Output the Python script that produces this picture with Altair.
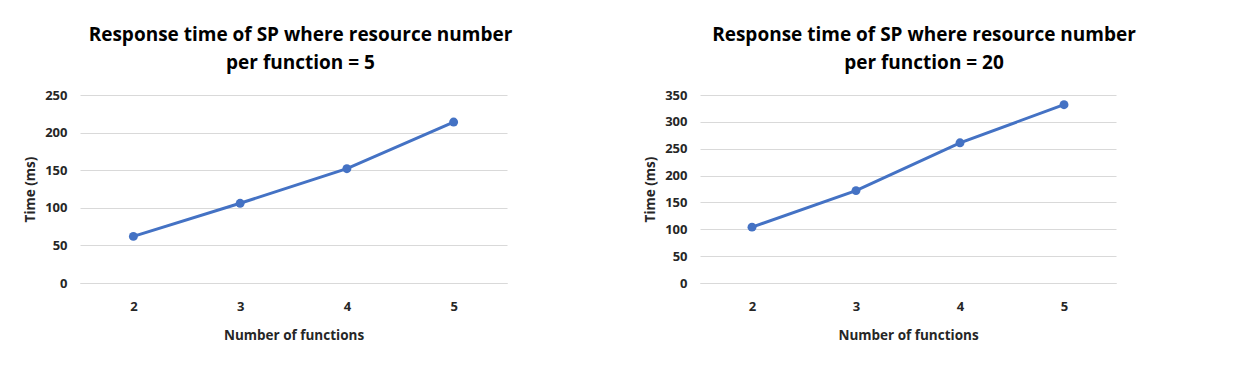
import altair as alt
import pandas as pd

functions = [2, 3, 4, 5]
time_r5 = [62, 106, 152, 214]
time_r20 = [104, 172, 261, 332]

FONT = "Open Sans"
BLUE = "#4472C4"
GRID = "#D9D9D9"


def panel(values, title, ymax, width, dx):
    df = pd.DataFrame({"n": functions, "t": values})
    base = alt.Chart(df).encode(
        x=alt.X(
            "n:O",
            title="Number of functions",
            scale=alt.Scale(type="point", padding=0.5),
            axis=alt.Axis(
                labelAngle=0,
                ticks=False,
                domain=True,
                domainColor=GRID,
                grid=False,
                labelPadding=17,
                titlePadding=15,
            ),
        ),
        y=alt.Y(
            "t:Q",
            title="Time (ms)",
            scale=alt.Scale(domain=[0, ymax], nice=False),
            axis=alt.Axis(
                values=list(range(0, ymax + 1, 50)),
                ticks=False,
                domain=False,
                grid=True,
                gridColor=GRID,
                labelPadding=13,
                titlePadding=7,
            ),
        ),
    )
    line = base.mark_line(color=BLUE, strokeWidth=3)
    pts = base.mark_circle(color=BLUE, size=80, opacity=1)
    return (line + pts).properties(
        width=width,
        height=188,
        title=alt.TitleParams(
            text=title,
            fontSize=19,
            font=FONT,
            fontWeight="bold",
            color="#000000",
            lineHeight=28,
            offset=16,
            dx=dx,
        ),
    )


left = panel(time_r5, ["Response time of SP where resource number", "per function = 5"], 250, 427, 7)
right = panel(time_r20, ["Response time of SP where resource number", "per function = 20"], 350, 416, 16)

chart = (
    alt.hconcat(left, right, spacing=130)
    .properties(padding={"left": 15, "top": 18, "right": 5, "bottom": 5}, background="white")
    .configure_view(stroke=None)
    .configure_axis(
        labelFont=FONT,
        labelFontSize=13,
        labelFontWeight="bold",
        labelColor="#262626",
        titleFont=FONT,
        titleFontSize=13.5,
        titleFontWeight="bold",
        titleColor="#262626",
    )
)

chart.save("out.html", embed_options={"renderer": "svg", "actions": False})
